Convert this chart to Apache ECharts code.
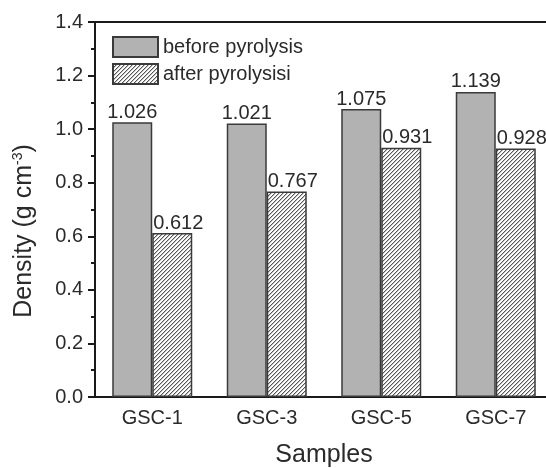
<!DOCTYPE html>
<html>
<head>
<meta charset="utf-8">
<script src="https://cdn.jsdelivr.net/npm/echarts@6/dist/echarts.min.js"></script>
<style>
html,body{margin:0;padding:0;background:#fff;overflow:hidden;}
#c{width:546px;height:468px;}
</style>
</head>
<body>
<div id="c"></div>
<script>
const categories = ['GSC-1', 'GSC-3', 'GSC-5', 'GSC-7'];
const beforePyrolysis = [1.026, 1.021, 1.075, 1.139];
const afterPyrolysis = [0.612, 0.767, 0.931, 0.928];
const seriesNames = ['before pyrolysis', 'after pyrolysisi'];
const yTicks = {min: 0, max: 1.4, interval: 0.2};

const FONT = '"Liberation Sans", Arial, sans-serif';

// hatch pattern
const pc = document.createElement('canvas');
pc.width = 4; pc.height = 4;
const px = pc.getContext('2d');
px.fillStyle = '#ffffff';
px.fillRect(0, 0, 4, 4);
for (let i = 0; i < 4; i++) {
  px.fillStyle = '#555555';
  px.fillRect(i, 3 - i, 1, 1);
  px.fillStyle = '#c4c4c4';
  px.fillRect(i, (4 - i) % 4, 1, 1);
}
const hatch = {image: pc, repeat: 'repeat'};

const chart = echarts.init(document.getElementById('c'), null, {renderer: 'canvas'});
chart.setOption({
  backgroundColor: '#ffffff',
  animation: false,
  textStyle: {fontFamily: FONT},
  grid: {left: 95, top: 22, width: 458, bottom: 71, containLabel: false, outerBoundsMode: 'none', show: true, borderColor: '#1a1a1a', borderWidth: 2, backgroundColor: 'transparent'},
  legend: {
    orient: 'vertical', left: 107, top: 31, itemWidth: 45, itemHeight: 20, itemGap: 5,
    icon: 'rect',
    textStyle: {fontSize: 20, color: '#2a2a2a', fontFamily: FONT},
    data: seriesNames
  },
  graphic: [{
    type: 'text',
    x: 24, y: 231,
    rotation: Math.PI / 2,
    style: {
      text: 'Density (g cm{sup|-3})',
      font: '25px ' + FONT,
      fill: '#2a2a2a',
      align: 'center',
      verticalAlign: 'middle',
      rich: {sup: {fontSize: 14, fontFamily: FONT, fill: '#2a2a2a', padding: [0, 0, 12, 0]}}
    }
  }],
  xAxis: [{
    type: 'category', data: categories, position: 'bottom',
    name: 'Samples', nameLocation: 'middle', nameGap: 46,
    nameTextStyle: {fontSize: 25, color: '#2a2a2a', fontFamily: FONT},
    axisLine: {lineStyle: {color: '#1a1a1a', width: 2}},
    axisTick: {alignWithLabel: true, length: 7, lineStyle: {color: '#1a1a1a', width: 2}},
    axisLabel: {fontSize: 20, color: '#2a2a2a', margin: 11, fontFamily: FONT}
  }, {
    type: 'category', data: categories, position: 'bottom',
    axisLine: {show: false},
    axisTick: {alignWithLabel: false, length: 4, lineStyle: {color: '#1a1a1a', width: 2}},
    axisLabel: {show: false}
  }],
  yAxis: {
    type: 'value', min: yTicks.min, max: yTicks.max, interval: yTicks.interval,
    axisLine: {show: true, lineStyle: {color: '#1a1a1a', width: 2}},
    axisTick: {show: true, length: 7, lineStyle: {color: '#1a1a1a', width: 2}},
    minorTick: {show: true, splitNumber: 2, length: 4, lineStyle: {color: '#1a1a1a', width: 2}},
    splitLine: {show: false},
    axisLabel: {fontSize: 20, color: '#2a2a2a', margin: 12, fontFamily: FONT, formatter: v => v.toFixed(1)}
  },
  series: [{
    name: seriesNames[0], type: 'bar', data: beforePyrolysis, xAxisIndex: 0,
    barWidth: 40, barGap: '0%',
    itemStyle: {color: '#b2b2b2', borderColor: '#3a3a3a', borderWidth: 1.5},
    label: {show: true, position: 'top', distance: 0, fontSize: 20, color: '#2a2a2a', fontFamily: FONT, formatter: p => p.value.toFixed(3)}
  }, {
    name: seriesNames[1], type: 'bar', data: afterPyrolysis, xAxisIndex: 0,
    barWidth: 40, barGap: '0%',
    itemStyle: {color: hatch, borderColor: '#3a3a3a', borderWidth: 1.5},
    label: {show: true, position: 'top', distance: 0, offset: [6, 0], fontSize: 20, color: '#2a2a2a', fontFamily: FONT, formatter: p => p.value.toFixed(3)}
  }]
});
</script>
</body>
</html>
